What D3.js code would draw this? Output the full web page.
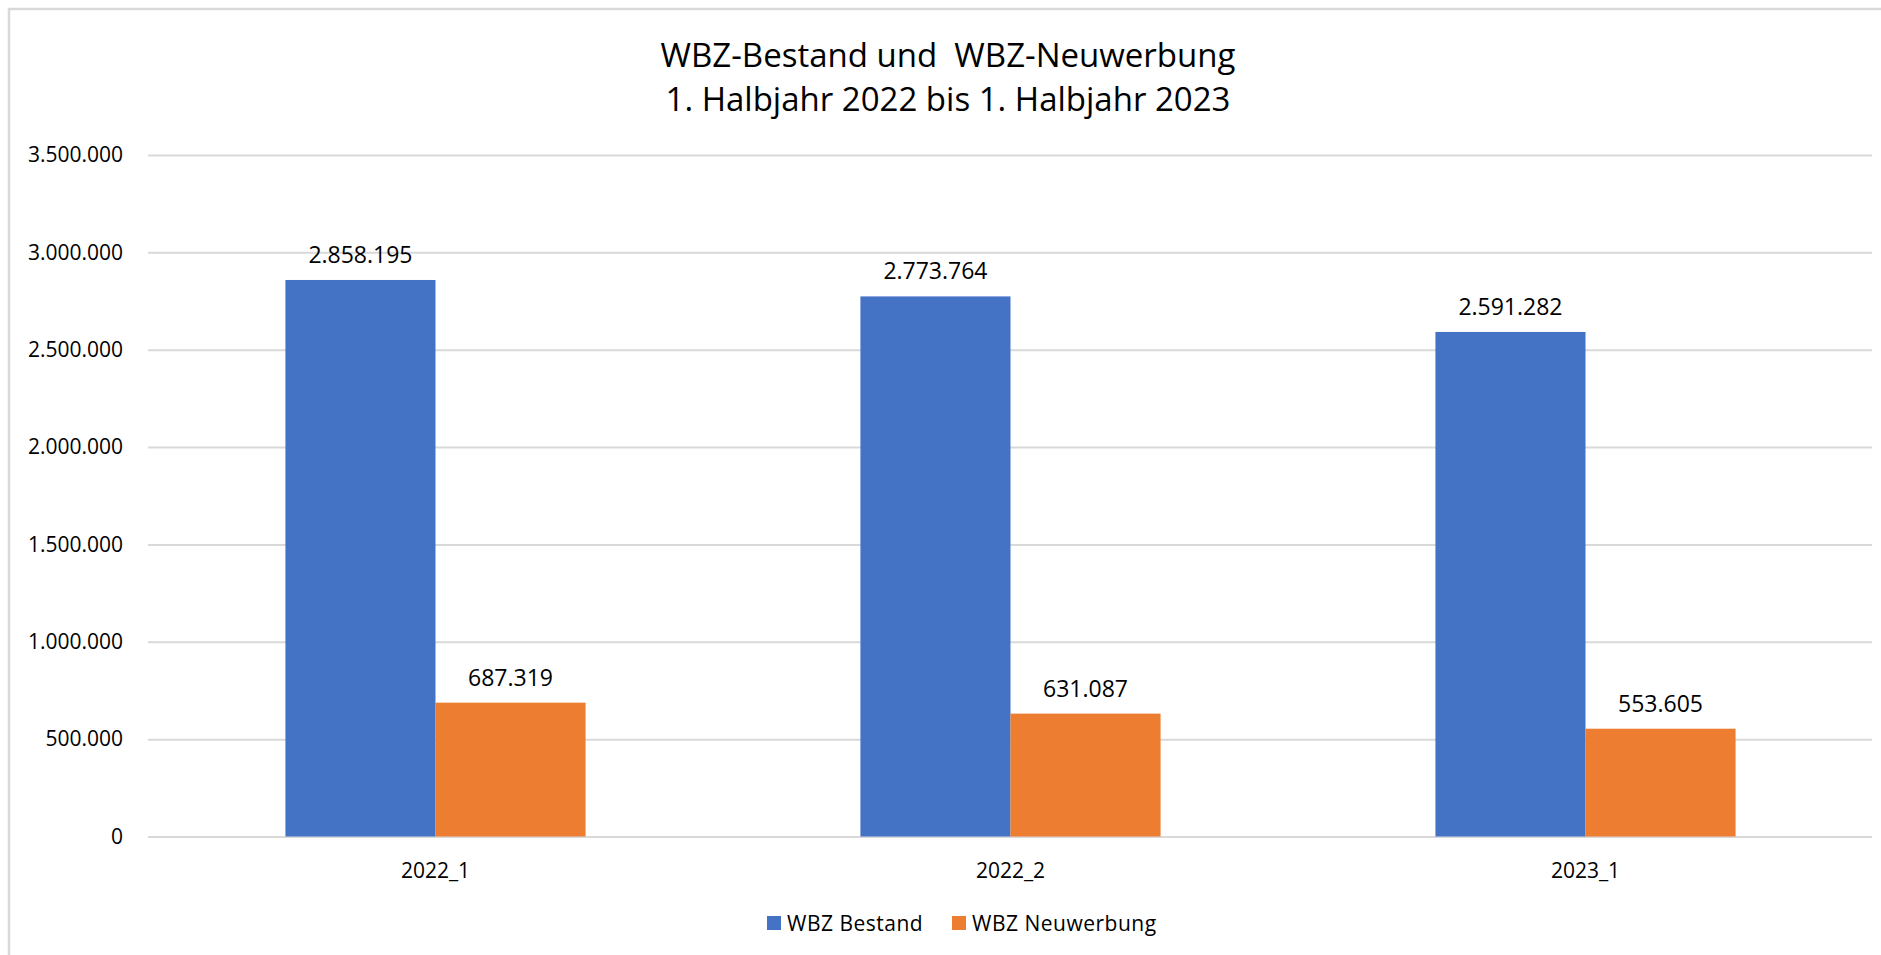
<!DOCTYPE html>
<html>
<head>
<meta charset="utf-8">
<script src="https://cdn.jsdelivr.net/npm/d3@7"></script>
<style>
    body { margin: 0; background: #fff; }
    #chart text { font-family: "Open Sans", "Noto Sans", sans-serif; fill: #000; }
</style>
</head>
<body>
<div id="chart"></div>
<script>
// Data
var categories = ['2022_1', '2022_2', '2023_1'];
var seriesNames = ['WBZ Bestand', 'WBZ Neuwerbung'];
var bestand = [2858195, 2773764, 2591282];
var neuwerbung = [687319, 631087, 553605];
var yTicks = [0, 500000, 1000000, 1500000, 2000000, 2500000, 3000000, 3500000];
var titleLines = ['WBZ-Bestand und  WBZ-Neuwerbung', '1. Halbjahr 2022 bis 1. Halbjahr 2023'];

var colors = ['#4472C4', '#ED7D31'];

var width = 1881, height = 955;
var margin = {top: 155, right: 8, bottom: 118, left: 148};

var svg = d3.select('#chart').append('svg')
    .attr('width', width)
    .attr('height', height);

// Chart frame (runs off the right and bottom like the original)
svg.append('rect')
    .attr('x', 9)
    .attr('y', 9)
    .attr('width', width)
    .attr('height', height)
    .attr('fill', '#fff')
    .attr('stroke', '#d9d9d9')
    .attr('stroke-width', 2.5);

var de = d3.formatLocale({decimal: ',', thousands: '.', grouping: [3], currency: ['', ' €']});
var fmt = de.format(',d');

var rows = categories.map(function(c, i) {
    return {cat: c, values: [bestand[i], neuwerbung[i]]};
});

var x0 = d3.scaleBand()
    .domain(categories)
    .range([margin.left, width - margin.right])
    .paddingInner(0.478)
    .paddingOuter(0.239);

var x1 = d3.scaleBand()
    .domain(d3.range(seriesNames.length))
    .range([0, x0.bandwidth()])
    .padding(0);

var y = d3.scaleLinear()
    .domain([0, 3500000])
    .range([height - margin.bottom - 0.5, margin.top]);

// Title
svg.append('g')
    .selectAll('text')
    .data(titleLines)
    .enter()
    .append('text')
    .attr('x', 948)
    .attr('y', function(d, i) { return 54 + i * 44; })
    .attr('text-anchor', 'middle')
    .attr('dominant-baseline', 'central')
    .style('font-size', '33px')
    .style('white-space', 'pre')
    .text(function(d) { return d; });

// Gridlines + y labels
var yAxis = d3.axisLeft(y)
    .tickValues(yTicks)
    .tickSize(-(width - margin.right - margin.left - 1))
    .tickPadding(25)
    .tickFormat(fmt);

var gy = svg.append('g')
    .attr('transform', 'translate(' + margin.left + ',0)')
    .call(yAxis);
gy.select('.domain').remove();
gy.selectAll('line')
    .attr('stroke', '#d9d9d9')
    .attr('stroke-width', 2);
gy.selectAll('text')
    .style('font-size', '21px');

// Bars
var groups = svg.append('g')
    .selectAll('g')
    .data(rows)
    .enter()
    .append('g')
    .attr('transform', function(d) { return 'translate(' + x0(d.cat) + ',0)'; });

groups.selectAll('rect')
    .data(function(d) { return d.values; })
    .enter()
    .append('rect')
    .attr('x', function(d, i) { return x1(i); })
    .attr('width', x1.bandwidth())
    .attr('y', function(d) { return y(d); })
    .attr('height', function(d) { return y(0) - y(d); })
    .attr('fill', function(d, i) { return colors[i]; });

// Value labels
groups.selectAll('text.value')
    .data(function(d) { return d.values; })
    .enter()
    .append('text')
    .classed('value', true)
    .attr('x', function(d, i) { return x1(i) + x1.bandwidth() / 2; })
    .attr('y', function(d) { return y(d) - 26; })
    .attr('text-anchor', 'middle')
    .attr('dominant-baseline', 'central')
    .style('font-size', '23px')
    .text(function(d) { return fmt(d); });

// X axis labels
var xAxis = d3.axisBottom(x0)
    .tickSize(0)
    .tickPadding(27);

var gx = svg.append('g')
    .attr('transform', 'translate(0,' + y(0) + ')')
    .call(xAxis);
gx.select('.domain').remove();
gx.selectAll('text')
    .style('font-size', '21px');

// Legend
var legendX = [767, 952];
var legend = svg.append('g')
    .selectAll('g')
    .data(seriesNames)
    .enter()
    .append('g')
    .attr('transform', function(d, i) { return 'translate(' + legendX[i] + ',923)'; });

legend.append('rect')
    .attr('x', 0)
    .attr('y', -7)
    .attr('width', 14)
    .attr('height', 14)
    .attr('fill', function(d, i) { return colors[i]; });

legend.append('text')
    .attr('x', 20)
    .attr('y', 0)
    .attr('dominant-baseline', 'central')
    .style('font-size', '21px')
    .style('letter-spacing', '0.5px')
    .text(function(d) { return d; });
</script>
</body>
</html>
